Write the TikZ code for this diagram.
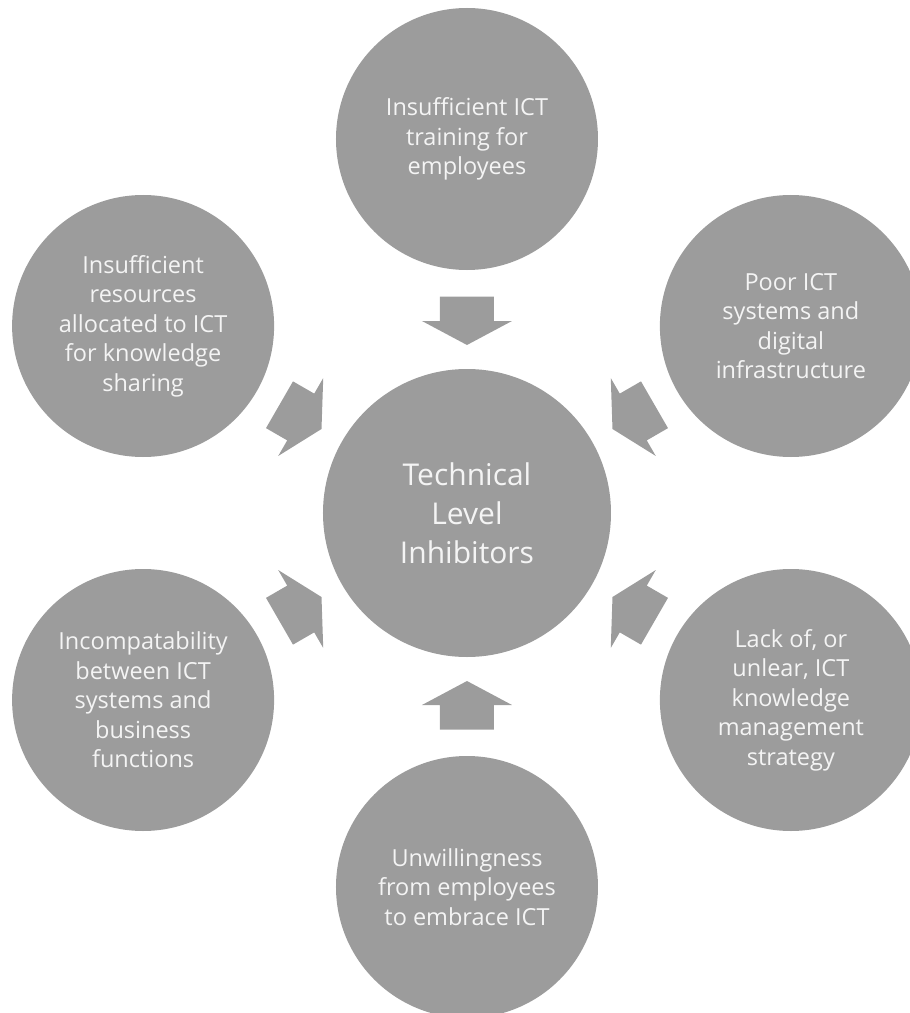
\documentclass[tikz,border=0pt]{standalone}
\usepackage{fontspec}
\setmainfont{Open Sans}
\definecolor{discgray}{RGB}{156,156,156}
\definecolor{labelwhite}{RGB}{244,244,244}
\begin{document}
\begin{tikzpicture}[x=1pt,y=1pt,
  hub/.style={circle, fill=discgray, minimum size=288pt, inner sep=0pt,
    text=labelwhite, align=center, font=\fontsize{30}{39}\selectfont},
  sat/.style={circle, fill=discgray, minimum size=262pt, inner sep=0pt,
    text=labelwhite, align=center, font=\fontsize{23.5}{29.5}\selectfont},
  blockarrow/.style={fill=discgray}]
\clip (-467,-500) rectangle (443,513);

% central circle
\node[hub] (hub) at (0,0) {Technical\\Level\\Inhibitors};

% surrounding circles
\node[sat] (s1) at (90:374)   {Insufficient ICT\\training for\\employees};
\node[sat] (s2) at (30:374)   {Poor ICT\\systems and\\digital\\infrastructure};
\node[sat] (s3) at (-30:374)  {Lack of, or\\unlear, ICT\\knowledge\\management\\strategy};
\node[sat] (s4) at (-90:374)  {Unwillingness\\from employees\\to embrace ICT};
\node[sat] (s5) at (-150:374) {Incompatability\\between ICT\\systems and\\business\\functions};
\node[sat] (s6) at (150:374)  {Insufficient\\resources\\allocated to ICT\\for knowledge\\sharing};

% block arrows pointing from each circle towards the centre
\foreach \ang in {90,30,-30,-90,-150,150} {
  \begin{scope}[shift={(hub.center)}, rotate=\ang]
    \fill[blockarrow] (216.5,27) -- (192,27) -- (192,45) -- (168,0)
      -- (192,-45) -- (192,-27) -- (216.5,-27) -- cycle;
  \end{scope}
}
\end{tikzpicture}
\end{document}
